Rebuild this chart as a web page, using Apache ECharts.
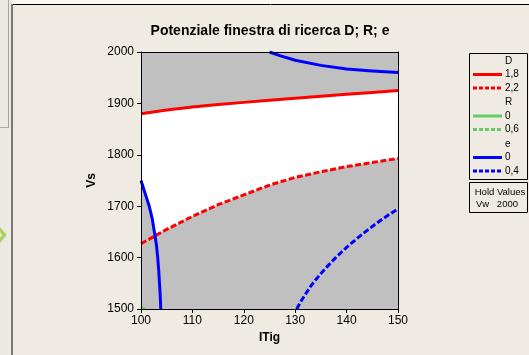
<!DOCTYPE html>
<html><head><meta charset="utf-8">
<script src="https://cdn.jsdelivr.net/npm/echarts@6/dist/echarts.min.js"></script>
<style>html,body{margin:0;padding:0;background:#EFEBE2;overflow:hidden}#c{width:529px;height:355px}</style>
</head><body><div id="c"></div><script>
// axis ticks
const xTicks = [100, 110, 120, 130, 140, 150];
const yTicks = [1500, 1600, 1700, 1800, 1900, 2000];

// D contours
const d18 = [[100,1880],[105,1887],[110,1893],[115,1898],[120,1902],[125,1906],[130,1910],[135,1914],[140,1918],[145,1921],[150,1925]];
const d22 = [[100,1627],[105,1655],[110,1680],[115,1703],[120,1722],[125,1741],[130,1756],[135,1767],[140,1777],[145,1785],[150,1793]];
// R contour (only touches the lower-left corner)
const r0 = [[100,1504],[100.8,1500]];
// e contours
const e0Left = [[100,1750],[100.8,1725],[101.6,1700],[102.2,1675],[102.6,1650],[103.0,1625],[103.25,1600],[103.45,1575],[103.6,1550],[103.75,1525],[103.85,1500]];
const e0Top = [[125,2000],[127,1993],[130,1984],[135,1974],[140,1967],[145,1963],[150,1960]];
const e04 = [[130.3,1500],[131,1513],[132,1529],[133,1544],[134,1557],[135,1569],[136,1580],[137,1591],[138,1601],[140,1620],[142,1637],[144,1653],[146,1668],[148,1682],[150,1695]];

// legend texts
const legendTitles = ['D', 'R', 'e'];
const dLevels = ['1,8', '2,2'];
const rLevels = ['0', '0,6'];
const eLevels = ['0', '0,4'];
const holdName = 'Vw';
const holdValue = '2000';

const RED = '#FF0000', GREEN = '#66CC66', BLUE = '#0000FF';
const FONT = 'Liberation Sans';

// intersection of two polylines (first hit)
function crossing(a, b) {
  for (let i = 0; i < a.length - 1; i++) {
    for (let j = 0; j < b.length - 1; j++) {
      const [x1,y1] = a[i], [x2,y2] = a[i+1], [x3,y3] = b[j], [x4,y4] = b[j+1];
      const den = (x1-x2)*(y3-y4) - (y1-y2)*(x3-x4);
      if (Math.abs(den) < 1e-12) continue;
      const t = ((x1-x3)*(y3-y4) - (y1-y3)*(x3-x4)) / den;
      const u = -((x1-x2)*(y1-y3) - (y1-y2)*(x1-x3)) / den;
      if (t >= 0 && t <= 1 && u >= 0 && u <= 1) return [x1 + t*(x2-x1), y1 + t*(y2-y1)];
    }
  }
  return null;
}

// feasible (white) window: below D=1.8, above D=2.2, right of e=0
const corner = crossing(e0Left, d22);
const windowPoly = []
  .concat(d18)
  .concat(d22.filter(p => p[0] > corner[0]).reverse())
  .concat([corner])
  .concat(e0Left.filter(p => p[1] > corner[1]).reverse());

function contour(data, color, dashed) {
  return {
    type: 'line', data: data, symbol: 'none', smooth: false, silent: true, z: 3,
    clip: true,
    lineStyle: { color: color, width: 3, type: dashed ? [6, 2.5] : 'solid', cap: 'butt', join: 'round' }
  };
}

const axisCommon = {
  axisLine: { show: true, lineStyle: { color: '#000', width: 1 } },
  splitLine: { show: false },
  z: 10
};

// legend block
const legendGraphics = [];
const lx = 469, ly = 53;
legendGraphics.push({ type: 'rect', shape: { x: lx + 0.5, y: ly + 0.5, width: 58, height: 126 },
  style: { fill: 'none', stroke: '#000', lineWidth: 1 } });
const groups = [[legendTitles[0], dLevels, RED], [legendTitles[1], rLevels, GREEN], [legendTitles[2], eLevels, BLUE]];
groups.forEach((g, gi) => {
  const gy = ly + 8 + gi * 41.5;
  legendGraphics.push({ type: 'text', x: 505, y: gy, style: { text: g[0], font: '10px ' + FONT, fill: '#000', verticalAlign: 'middle' } });
  g[1].forEach((lab, li) => {
    const yy = gy + 13.5 * (li + 1);
    legendGraphics.push({ type: 'line', shape: { x1: 473, y1: yy, x2: 502, y2: yy },
      style: { stroke: g[2], lineWidth: 3, lineDash: li ? [4, 2] : null } });
    legendGraphics.push({ type: 'text', x: 505, y: yy, style: { text: lab, font: '10px ' + FONT, fill: '#000', verticalAlign: 'middle' } });
  });
});
legendGraphics.push({ type: 'rect', shape: { x: lx + 0.5, y: 182.5, width: 58, height: 30 },
  style: { fill: 'none', stroke: '#000', lineWidth: 1 } });
legendGraphics.push({ type: 'text', x: 500, y: 192, style: { text: 'Hold Values', font: '9.5px ' + FONT, fill: '#000', align: 'center', verticalAlign: 'middle' } });
legendGraphics.push({ type: 'text', x: 476, y: 204, style: { text: holdName, font: '9.5px ' + FONT, fill: '#000', verticalAlign: 'middle' } });
legendGraphics.push({ type: 'text', x: 518, y: 204, style: { text: holdValue, font: '9.5px ' + FONT, fill: '#000', align: 'right', verticalAlign: 'middle' } });

// surrounding window frame and title
const frame = [
  { type: 'rect', shape: { x: 0, y: 0, width: 11, height: 355 }, style: { fill: '#ECE9E3' } },
  { type: 'line', shape: { x1: 8.5, y1: 0, x2: 8.5, y2: 127 }, style: { stroke: '#A9A7A0', lineWidth: 1 } },
  { type: 'line', shape: { x1: 0, y1: 127.5, x2: 9, y2: 127.5 }, style: { stroke: '#A9A7A0', lineWidth: 1 } },
  { type: 'rect', shape: { x: 12, y: 0, width: 517, height: 4 }, style: { fill: '#F9F8F5' } },
  { type: 'line', shape: { x1: 12, y1: 4.5, x2: 529, y2: 4.5 }, style: { stroke: '#000', lineWidth: 1 } },
  { type: 'line', shape: { x1: 12, y1: 4, x2: 12, y2: 355 }, style: { stroke: '#7A7875', lineWidth: 2 } },
  { type: 'polyline', shape: { points: [[-3, 226], [4.5, 235], [-3, 244]] },
    style: { stroke: '#A8D060', lineWidth: 3, fill: 'none', shadowBlur: 2, shadowColor: '#C8E0A0' } },
  { type: 'text', x: 270, y: 31, style: { text: 'Potenziale finestra di ricerca D; R; e', font: 'bold 14px ' + FONT, fill: '#000', align: 'center', verticalAlign: 'middle' } }
];

const plain = v => String(v);

const chart = echarts.init(document.getElementById('c'), null, { renderer: 'canvas' });
chart.setOption({
  backgroundColor: '#EFEBE2',
  animation: false,
  grid: { left: 141, top: 52, width: 257, height: 257, show: true, backgroundColor: '#C0C0C0', borderWidth: 0 },
  xAxis: [
    Object.assign({}, axisCommon, {
      type: 'value', position: 'bottom', min: xTicks[0], max: xTicks[xTicks.length - 1], interval: xTicks[1] - xTicks[0],
      axisTick: { show: true, length: 4, lineStyle: { color: '#000' } },
      axisLabel: { color: '#000', fontSize: 12, fontFamily: FONT, margin: 6, formatter: plain },
      name: 'ITig', nameLocation: 'middle', nameGap: 23,
      nameTextStyle: { color: '#000', fontWeight: 'bold', fontSize: 12, fontFamily: FONT }
    }),
    Object.assign({}, axisCommon, {
      type: 'value', position: 'top', min: xTicks[0], max: xTicks[xTicks.length - 1],
      axisTick: { show: false }, axisLabel: { show: false }
    })
  ],
  yAxis: [
    Object.assign({}, axisCommon, {
      type: 'value', position: 'left', min: yTicks[0], max: yTicks[yTicks.length - 1], interval: yTicks[1] - yTicks[0],
      axisTick: { show: true, length: 4, lineStyle: { color: '#000' } },
      axisLabel: { color: '#000', fontSize: 12, fontFamily: FONT, margin: 7, formatter: plain },
      name: 'Vs', nameLocation: 'middle', nameGap: 43, nameRotate: 90,
      nameTextStyle: { color: '#000', fontWeight: 'bold', fontSize: 12, fontFamily: FONT }
    }),
    Object.assign({}, axisCommon, {
      type: 'value', position: 'right', min: yTicks[0], max: yTicks[yTicks.length - 1],
      axisTick: { show: false }, axisLabel: { show: false }
    })
  ],
  series: [
    {
      type: 'custom', silent: true, z: 1, clip: true,
      data: [[xTicks[0], yTicks[0]]],
      renderItem: function (params, api) {
        return { type: 'polygon', shape: { points: windowPoly.map(p => api.coord(p)) }, style: { fill: '#FFFFFF' } };
      }
    },
    contour(d18, RED, false),
    contour(d22, RED, true),
    contour(r0, GREEN, false),
    contour(e0Left, BLUE, false),
    contour(e0Top, BLUE, false),
    contour(e04, BLUE, true)
  ],
  graphic: frame.concat(legendGraphics)
});
</script></body></html>
